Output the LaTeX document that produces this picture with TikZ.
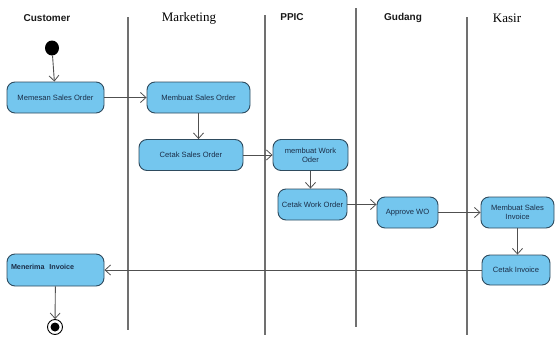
\documentclass[tikz,border=0pt]{standalone}
\usepackage{fontspec}
\setmainfont{Liberation Serif}
\setsansfont{Liberation Sans}
\usetikzlibrary{arrows.meta,shapes.geometric}
\definecolor{boxfill}{HTML}{74C6EE}
\definecolor{boxdraw}{HTML}{2E4B5E}
\definecolor{boxtext}{HTML}{1B2E48}
\definecolor{lanecol}{HTML}{707070}
\definecolor{flowcol}{HTML}{505050}
\tikzset{
  act/.style={draw=boxdraw, fill=boxfill, rounded corners=8pt, line width=0.9pt,
    text=boxtext, font=\sffamily\fontsize{7.6}{9}\selectfont, align=center,
    inner sep=0pt},
  lane/.style={draw=lanecol, line width=1.1pt},
  flow/.style={draw=flowcol, line width=0.9pt, -{Straight Barb[length=5.5pt,width=10pt,line width=0.8pt]}},
  titsans/.style={font=\sffamily\bfseries\fontsize{10}{12}\selectfont, text=black!90},
  titserif/.style={font=\rmfamily\fontsize{13}{15}\selectfont, text=black}
}
\begin{document}
\begin{tikzpicture}[x=1pt,y=-1pt]
\useasboundingbox (0,0) rectangle (555,338);
% lanes
\draw[lane] (128,17) -- (128,330);
\draw[lane] (265,15) -- (265,335);
\draw[lane] (356,8) -- (356,327);
\draw[lane] (467,17) -- (467,335);
% titles
\node[titsans] (tcust) at (47,18) {Customer};
\node[titserif] (tmark) at (189,18) {Marketing};
\node[titsans] (tppic) at (292,17) {PPIC};
\node[titsans] (tgud) at (403,18) {Gudang};
\node[titserif] (tkas) at (507,18) {Kasir};
% start / end
\node[ellipse, fill=black, minimum width=14pt, minimum height=15pt, inner sep=0pt] (start) at (52,48) {};
\node[circle, draw=black, line width=0.9pt, minimum size=15pt, inner sep=0pt] (end) at (55,327) {};
\node[circle, fill=black, minimum size=9pt, inner sep=0pt] (endin) at (end) {};
% activities
\node[act, minimum width=97pt, minimum height=31pt] (memesan) at (55.5,97.5) {Memesan Sales Order};
\node[act, minimum width=103pt, minimum height=31pt] (mbso) at (198.5,97.5) {Membuat Sales Order};
\node[act, minimum width=104pt, minimum height=31pt] (cso) at (191,155) {Cetak Sales Order};
\node[act, minimum width=75pt, minimum height=31pt] (mwo) at (310.5,155) {membuat Work\\Oder};
\node[act, minimum width=69pt, minimum height=31pt] (cwo) at (312.5,204.5) {Cetak Work Order};
\node[act, minimum width=61pt, minimum height=31pt] (awo) at (407.5,212.5) {Approve WO};
\node[act, minimum width=73pt, minimum height=31pt] (msi) at (517.5,212.5) {Membuat Sales\\Invoice};
\node[act, minimum width=68pt, minimum height=30pt] (ci) at (516,270) {Cetak Invoice};
\node[act, minimum width=97pt, minimum height=32pt, text width=89pt, align=left,
  font=\sffamily\bfseries\fontsize{7.2}{8.5}\selectfont] (mi) at (55.5,270) {\raisebox{6pt}{Menerima\ \ Invoice}};
% flows
\draw[flow] (start) -- (memesan);
\draw[flow] (memesan) -- (mbso);
\draw[flow] (mbso) -- (mbso |- cso.north);
\draw[flow] (cso) -- (mwo);
\draw[flow] (mwo) -- (mwo |- cwo.north);
\draw[flow] (cwo.east) -- (awo.west |- cwo.east);
\draw[flow] (awo) -- (msi);
\draw[flow] (msi) -- (msi |- ci.north);
\draw[flow] (ci) -- (mi);
\draw[flow] (mi) -- (end);
\end{tikzpicture}
\end{document}
